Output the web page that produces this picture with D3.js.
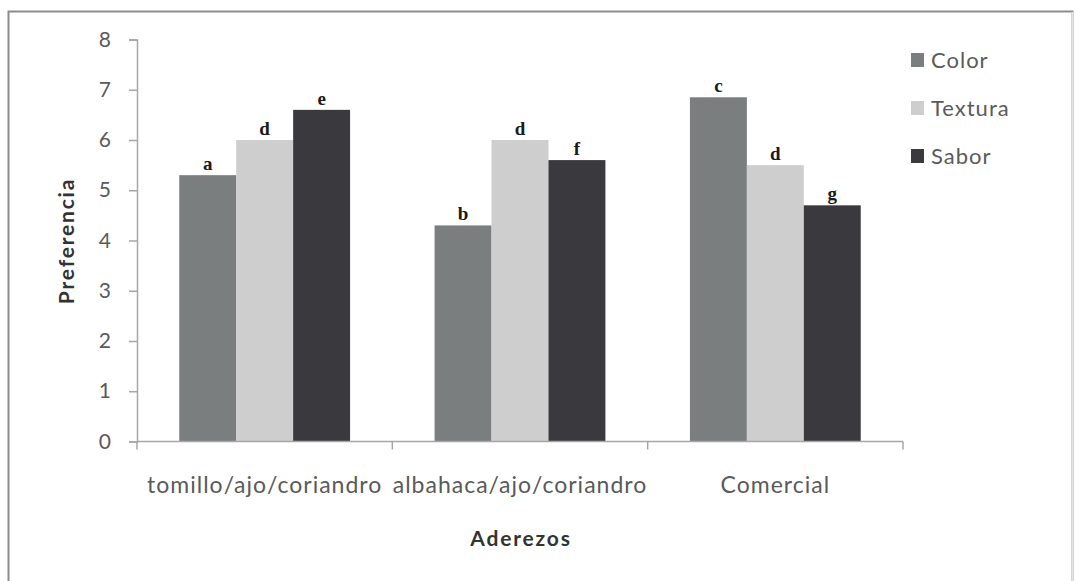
<!DOCTYPE html>
<html>
<head>
<meta charset="utf-8">
<script src="https://cdn.jsdelivr.net/npm/d3@7"></script>
<style>
  html, body { margin: 0; padding: 0; background: #fff; }
  svg { display: block; }
</style>
</head>
<body>
<svg id="chart" width="1077" height="581"></svg>
<script>
// Aderezos evaluated and the three sensory attributes
const categories = ["tomillo/ajo/coriandro", "albahaca/ajo/coriandro", "Comercial"];
const seriesNames = ["Color", "Textura", "Sabor"];

// Mean preference score per attribute, one entry per aderezo
const colorValues   = [5.3, 4.3, 6.85];
const texturaValues = [6.0, 6.0, 5.5];
const saborValues   = [6.6, 5.6, 4.7];

// Significance letters over each bar
const colorLetters   = ["a", "b", "c"];
const texturaLetters = ["d", "d", "d"];
const saborLetters   = ["e", "f", "g"];

const yTicks = [0, 1, 2, 3, 4, 5, 6, 7, 8];

const series = [
  { name: seriesNames[0], values: colorValues,   letters: colorLetters,   fill: "#7a7e7f" },
  { name: seriesNames[1], values: texturaValues, letters: texturaLetters, fill: "#cecece" },
  { name: seriesNames[2], values: saborValues,   letters: saborLetters,   fill: "#3a393e" }
];

const svg = d3.select("#chart");

// outer frame
svg.append("rect")
  .attr("x", 8.5).attr("y", 11.5)
  .attr("width", 1064).attr("height", 600)
  .attr("fill", "none")
  .attr("stroke", "#8c8c8c")
  .attr("stroke-width", 2);
svg.append("line")
  .attr("x1", 1072.5).attr("x2", 1072.5).attr("y1", 12).attr("y2", 581)
  .attr("stroke", "#e4e4e4").attr("stroke-width", 2);

const plot = { left: 137, right: 903, top: 39.5, bottom: 441.5 };

const x0 = d3.scaleBand()
  .domain(categories)
  .range([plot.left, plot.right])
  .paddingInner(0.331)
  .paddingOuter(0.1655);

const x1 = d3.scaleBand()
  .domain(seriesNames)
  .range([0, x0.bandwidth()]);

const y = d3.scaleLinear()
  .domain([0, 8])
  .range([plot.bottom, plot.top]);

const axisColor = "#a6a6a6";
const tickFont = "Lato, 'Open Sans', sans-serif";

// Y axis
const yAxis = svg.append("g")
  .attr("transform", `translate(${plot.left},0)`)
  .call(d3.axisLeft(y).tickValues(yTicks).tickSize(8).tickPadding(18).tickFormat(d3.format("d")));
yAxis.select(".domain").attr("stroke", axisColor).attr("stroke-width", 1.5);
yAxis.selectAll(".tick line").attr("stroke", axisColor).attr("stroke-width", 1.5);
yAxis.selectAll(".tick text")
  .attr("fill", "#5a5a5a")
  .style("font-family", tickFont)
  .style("font-size", "21px");

// Bars
const groups = svg.append("g")
  .selectAll("g")
  .data(categories)
  .join("g")
  .attr("transform", d => `translate(${x0(d)},0)`);

series.forEach(s => {
  groups.append("rect")
    .attr("x", x1(s.name))
    .attr("width", x1.bandwidth())
    .attr("y", (d, i) => y(s.values[i]))
    .attr("height", (d, i) => y(0) - y(s.values[i]))
    .attr("fill", s.fill);

  groups.append("text")
    .attr("x", x1(s.name) + x1.bandwidth() / 2)
    .attr("y", (d, i) => y(s.values[i]) - 5)
    .attr("text-anchor", "middle")
    .attr("fill", "#1a1a1a")
    .style("font-family", "'Liberation Serif', 'Times New Roman', serif")
    .style("font-weight", "bold")
    .style("font-size", "19px")
    .text((d, i) => s.letters[i]);
});

// X axis with ticks between categories
const bounds = [plot.left].concat(categories.map(c => x0(c) + x0.bandwidth() + x0.step() * x0.paddingInner() / 2));
const xAxis = svg.append("g");
xAxis.append("line")
  .attr("x1", plot.left).attr("x2", plot.right)
  .attr("y1", plot.bottom).attr("y2", plot.bottom)
  .attr("stroke", axisColor).attr("stroke-width", 1.5);
xAxis.selectAll("line.tk")
  .data(bounds)
  .join("line")
  .attr("class", "tk")
  .attr("x1", d => d).attr("x2", d => d)
  .attr("y1", plot.bottom).attr("y2", plot.bottom + 8)
  .attr("stroke", axisColor).attr("stroke-width", 1.5);
xAxis.selectAll("text")
  .data(categories)
  .join("text")
  .attr("x", d => x0(d) + x0.bandwidth() / 2)
  .attr("y", 493)
  .attr("text-anchor", "middle")
  .attr("fill", "#5a5a5a")
  .style("font-family", tickFont)
  .style("font-size", "23px")
  .style("letter-spacing", "1px")
  .text(d => d);

// Axis titles
svg.append("text")
  .attr("transform", "translate(74,241) rotate(-90)")
  .attr("text-anchor", "middle")
  .attr("fill", "#333")
  .style("font-family", tickFont)
  .style("font-weight", "bold")
  .style("font-size", "21px")
  .style("letter-spacing", "1.8px")
  .text("Preferencia");

svg.append("text")
  .attr("x", 521).attr("y", 546)
  .attr("text-anchor", "middle")
  .attr("fill", "#333")
  .style("font-family", tickFont)
  .style("font-weight", "bold")
  .style("font-size", "21px")
  .style("letter-spacing", "1.8px")
  .text("Aderezos");

// Legend
const legend = svg.append("g")
  .selectAll("g")
  .data(series)
  .join("g")
  .attr("transform", (d, i) => `translate(911,${60 + i * 48})`);
legend.append("rect")
  .attr("x", 0).attr("y", -7)
  .attr("width", 13).attr("height", 14)
  .attr("fill", d => d.fill);
legend.append("text")
  .attr("x", 20).attr("y", 8)
  .attr("fill", "#5a5a5a")
  .style("font-family", tickFont)
  .style("font-size", "22px")
  .style("letter-spacing", "1px")
  .text(d => d.name);
</script>
</body>
</html>
